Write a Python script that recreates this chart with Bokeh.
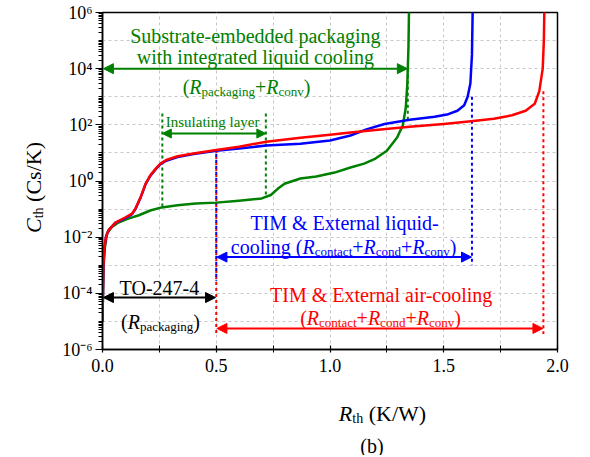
import math
from bokeh.plotting import figure
from bokeh.layouts import row, column
from bokeh.models import Range1d, FixedTicker, CustomJSTickFormatter, Label, Arrow, NormalHead
from bokeh.embed import file_html
from bokeh.resources import INLINE

FONT = "Liberation Serif"
GREEN = "#008000"
BLUE = "#0000ff"
RED = "#ff0000"
BLACK = "#000000"

# ---------------- data ----------------
# red: TIM & external air-cooling  (x = R_th [K/W], y = log10 C_th [Cs/K])
red_rth = [0.000, 0.002, 0.004, 0.008, 0.015, 0.026, 0.057, 0.10, 0.13, 0.145, 0.167, 0.19,
           0.21, 0.235, 0.255, 0.28, 0.33, 0.40, 0.50, 0.60, 0.72, 0.87, 1.00, 1.09, 1.20,
           1.35, 1.50, 1.62, 1.72, 1.80, 1.86, 1.90, 1.92, 1.935, 1.94, 1.943]
red_log_cth = [-5.0, -4.0, -3.0, -2.4, -2.0, -1.76, -1.48, -1.30, -1.16, -0.98, -0.59, -0.09,
               0.20, 0.45, 0.62, 0.75, 0.88, 0.98, 1.10, 1.22, 1.40, 1.54, 1.65, 1.73, 1.82,
               1.93, 2.03, 2.13, 2.22, 2.34, 2.50, 2.75, 3.20, 4.00, 5.00, 6.50]

# blue: TIM & external liquid-cooling
blue_rth = [0.000, 0.002, 0.004, 0.008, 0.015, 0.026, 0.057, 0.10, 0.13, 0.145, 0.167, 0.19,
            0.21, 0.235, 0.255, 0.28, 0.33, 0.40, 0.50, 0.60, 0.72, 0.87, 1.00, 1.09, 1.16,
            1.24, 1.35, 1.46, 1.52, 1.56, 1.59, 1.605, 1.617, 1.624, 1.628]
blue_log_cth = [-5.0, -4.0, -3.0, -2.4, -2.0, -1.76, -1.48, -1.32, -1.18, -1.00, -0.60, -0.10,
                0.18, 0.43, 0.60, 0.72, 0.85, 0.96, 1.08, 1.16, 1.26, 1.33, 1.44, 1.62, 1.84,
                2.03, 2.18, 2.29, 2.38, 2.50, 2.70, 3.00, 3.47, 4.50, 6.50]

# green: substrate-embedded packaging with integrated liquid cooling
green_rth = [0.000, 0.002, 0.005, 0.010, 0.020, 0.040, 0.070, 0.11, 0.16, 0.21, 0.26, 0.33,
             0.41, 0.50, 0.60, 0.70, 0.74, 0.77, 0.80, 0.87, 0.94, 1.02, 1.09, 1.15, 1.20,
             1.25, 1.295, 1.32, 1.333, 1.34, 1.345, 1.348]
green_log_cth = [-5.0, -4.0, -3.0, -2.4, -1.87, -1.65, -1.48, -1.35, -1.22, -1.05, -0.94, -0.86,
                 -0.80, -0.77, -0.70, -0.62, -0.50, -0.28, -0.10, 0.09, 0.16, 0.30, 0.48, 0.62,
                 0.80, 1.08, 1.55, 1.98, 2.60, 3.47, 4.80, 6.50]

# ticks
x_ticks = [0.0, 0.5, 1.0, 1.5, 2.0]
x_tick_labels = ["0.0", "0.5", "1.0", "1.5", "2.0"]
x_minor_ticks = [0.25, 0.75, 1.25, 1.75]
y_tick_exponents = [-6, -4, -2, 0, 2, 4, 6]
y_tick_labels = ["10\u207b\u2076", "10\u207b\u2074", "10\u207b\u00b2", "10\u2070",
                 "10\u00b2", "10\u2074", "10\u2076"]

# ---------------- layout geometry ----------------
YL_W = 48                    # strip holding the y-axis title
FW, FH = 455, 337            # plot frame
LEFT, TOP, RIGHT, BOTTOM = 54, 12, 25, 36
MAIN_W = LEFT + FW + RIGHT
MAIN_H = TOP + FH + BOTTOM
XL_H = 70                    # strip holding x-axis title and "(b)"
TOTAL_H = MAIN_H + XL_H
PXX = FW / 2.0               # px per K/W
PXD = FH / 12.0              # px per decade

p = figure(frame_width=FW, frame_height=FH,
           x_range=Range1d(0, 2), y_range=Range1d(1e-6, 1e6), y_axis_type="log",
           output_backend="svg", toolbar_location=None,
           min_border_left=LEFT, min_border_right=RIGHT, min_border_top=TOP,
           min_border_bottom=BOTTOM,
           background_fill_color="white", border_fill_color="white")
p.outline_line_color = "black"
p.outline_line_width = 1.5
p.outline_line_alpha = 1.0

# x axis
p.xaxis.ticker = FixedTicker(ticks=x_ticks, minor_ticks=x_minor_ticks)
p.xaxis.formatter = CustomJSTickFormatter(args=dict(xs=x_ticks, labs=x_tick_labels), code="""
const i = xs.findIndex(v => Math.abs(v - tick) < 1e-9);
return i >= 0 ? labs[i] : "";
""")
p.xaxis.major_tick_in = 4
p.xaxis.major_tick_out = 3
p.xaxis.minor_tick_in = 4
p.xaxis.minor_tick_out = 3
p.xaxis.major_label_standoff = 6
# y axis
decade_ticks = [10.0 ** e for e in y_tick_exponents]
minor = []
for k in range(-6, 6):
    for m in range(1, 10):
        if m == 1 and k in y_tick_exponents:
            continue
        minor.append(m * 10.0 ** k)
p.yaxis.ticker = FixedTicker(ticks=decade_ticks, minor_ticks=minor)
p.yaxis.formatter = CustomJSTickFormatter(args=dict(es=y_tick_exponents, labs=y_tick_labels), code="""
const e = Math.round(Math.log10(tick));
const i = es.indexOf(e);
return i >= 0 ? labs[i] : "";
""")
p.yaxis.major_tick_in = 0
p.yaxis.major_tick_out = 7
p.yaxis.minor_tick_in = 0
p.yaxis.minor_tick_out = 4
p.yaxis.major_label_standoff = 3

for ax in (p.xaxis, p.yaxis):
    ax.axis_line_width = 1.5
    ax.axis_line_color = "black"
    ax.major_tick_line_color = "black"
    ax.minor_tick_line_color = "black"
    ax.major_tick_line_width = 1.2
    ax.minor_tick_line_width = 1
    ax.major_label_text_font = FONT
    ax.major_label_text_font_size = "18px"
    ax.major_label_text_color = "black"

p.xgrid.ticker = FixedTicker(ticks=[0.25, 0.5, 0.75, 1.0, 1.25, 1.5, 1.75])
p.ygrid.ticker = FixedTicker(ticks=[10.0 ** k for k in range(-5, 6)])
for g in (p.xgrid, p.ygrid):
    g.grid_line_color = "#c8c8c8"
    g.grid_line_dash = "3 3"
    g.grid_line_width = 1


def text_fig(w, h):
    f = figure(frame_width=w, frame_height=h, x_range=Range1d(0, w), y_range=Range1d(0, h),
               min_border=0, min_border_left=0, min_border_right=0, min_border_top=0,
               min_border_bottom=0, x_axis_location=None, y_axis_location=None,
               toolbar_location=None, output_backend="svg",
               background_fill_color="white", border_fill_color="white")
    f.outline_line_color = None
    f.xgrid.visible = False
    f.ygrid.visible = False
    return f


fig_yl = text_fig(YL_W, TOTAL_H)
fig_xl = text_fig(MAIN_W, XL_H)

# ---------------- helper lines ----------------
def dotted(x, y0, y1, color, offset=0):
    p.line([x, x], [y0, y1], line_color=color, line_width=2, line_dash="3 3",
           line_dash_offset=offset)

def c_at(xs, ls, x):
    for i in range(len(xs) - 1):
        if xs[i] <= x <= xs[i + 1]:
            t = (x - xs[i]) / (xs[i + 1] - xs[i])
            return 10 ** (ls[i] + t * (ls[i + 1] - ls[i]))
    return 10 ** ls[-1]

# insulating layer markers
dotted(0.263, 10 ** 2.4, c_at(green_rth, green_log_cth, 0.263), GREEN)
dotted(0.718, 10 ** 2.4, c_at(green_rth, green_log_cth, 0.718), GREEN)
# green end marker
dotted(1.342, 1e4, 10 ** 2.2, GREEN)
# x = 0.5 markers (red + blue)
dotted(0.5, c_at(red_rth, red_log_cth, 0.5), 10 ** -5.45, RED)
dotted(0.5, c_at(blue_rth, blue_log_cth, 0.5), 10 ** -3.55, BLUE, offset=3)
# right-hand markers
dotted(1.624, 10 ** 3.0, 10 ** -3.0, BLUE)
dotted(1.938, 10 ** 3.2, 10 ** -5.45, RED)

# ---------------- curves ----------------
p.line(green_rth, [10 ** v for v in green_log_cth], line_color=GREEN, line_width=2.5, line_join="round")
p.line(blue_rth, [10 ** v for v in blue_log_cth], line_color=BLUE, line_width=2.5, line_join="round")
p.line(red_rth, [10 ** v for v in red_log_cth], line_color=RED, line_width=2.5, line_join="round")

# ---------------- double arrows ----------------
def darrow(x0, x1, y, color, size=10):
    p.add_layout(Arrow(start=NormalHead(size=size, fill_color=color, line_color=color),
                       end=NormalHead(size=size, fill_color=color, line_color=color),
                       x_start=x0, y_start=y, x_end=x1, y_end=y,
                       line_color=color, line_width=2))

darrow(0.004, 1.340, 1e4, GREEN)
darrow(0.263, 0.718, 10 ** 1.69, GREEN, size=9)
darrow(0.503, 1.622, 10 ** -2.71, BLUE)
darrow(0.503, 1.936, 10 ** -5.25, RED)
darrow(0.004, 0.497, 10 ** -4.15, BLACK)

# ---------------- rich text ----------------
W = {' ': 250, '(': 333, ')': 333, '+': 564, '&': 778, '-': 333, '/': 278, '.': 250,
     'A': 722, 'B': 667, 'C': 667, 'D': 722, 'E': 611, 'F': 556, 'G': 722, 'H': 722, 'I': 333,
     'J': 389, 'K': 722, 'L': 611, 'M': 889, 'N': 722, 'O': 722, 'P': 556, 'Q': 722, 'R': 667,
     'S': 556, 'T': 611, 'U': 722, 'V': 722, 'W': 944, 'X': 722, 'Y': 722, 'Z': 611,
     'a': 444, 'b': 500, 'c': 444, 'd': 500, 'e': 444, 'f': 333, 'g': 500, 'h': 500, 'i': 278,
     'j': 278, 'k': 500, 'l': 278, 'm': 778, 'n': 500, 'o': 500, 'p': 500, 'q': 500, 'r': 333,
     's': 389, 't': 278, 'u': 500, 'v': 500, 'w': 722, 'x': 500, 'y': 500, 'z': 444}
WI = {'R': 611, 'C': 667}


def text_w(s, size, italic=False):
    tot = 0
    for ch in s:
        if italic and ch in WI:
            tot += WI[ch]
        else:
            tot += W.get(ch, 500)
    return tot * size / 1000.0


def log_tx(x, d):
    return x + d / PXX


def log_ty(y, d):
    return y * 10 ** (d / PXD)


def px_t(v, d):
    return v + d


def rich(fig, pieces, x, y, color, size=20, sub=13, align="center", angle=0.0, drop=4,
         tx=log_tx, ty=log_ty):
    widths = []
    for t, kind in pieces:
        sz = sub if kind == "s" else size
        widths.append(text_w(t, sz, kind == "i"))
    total = sum(widths)
    pos = -total / 2.0 if align == "center" else 0.0
    for (t, kind), w in zip(pieces, widths):
        sz = sub if kind == "s" else size
        lead = len(t) - len(t.lstrip(" "))
        shift = text_w(" " * lead, sz)
        d = drop if kind == "s" else 0
        a = pos + shift
        if angle == 0:
            lx = tx(x, a)
            ly = ty(y, -d)
        else:
            lx = tx(x, d)
            ly = ty(y, a)
        fig.add_layout(Label(x=lx, y=ly, text=t.lstrip(" "), text_font=FONT,
                             text_font_size=f"{sz}px",
                             text_font_style="italic" if kind == "i" else "normal",
                             text_color=color, text_align="left", text_baseline="alphabetic",
                             angle=angle))
        pos += w


rich(p, [("Substrate-embedded packaging", "n")], 0.672, 10 ** 5.18, GREEN)
rich(p, [("with integrated liquid cooling", "n")], 0.672, 10 ** 4.40, GREEN)
rich(p, [("(", "n"), ("R", "i"), ("packaging", "s"), ("+", "n"), ("R", "i"), ("conv", "s"), (")", "n")],
     0.633, 10 ** 3.33, GREEN)
rich(p, [("Insulating layer", "n")], 0.484, 10 ** 2.09, GREEN, size=15)

rich(p, [("TIM & External liquid-", "n")], 1.064, 10 ** -1.51, BLUE)
rich(p, [("cooling (", "n"), ("R", "i"), ("contact", "s"), ("+", "n"), ("R", "i"), ("cond", "s"),
         ("+", "n"), ("R", "i"), ("conv", "s"), (")", "n")], 1.06, 10 ** -2.36, BLUE)

rich(p, [("TIM & External air-cooling", "n")], 1.226, 10 ** -4.07, RED)
rich(p, [("(", "n"), ("R", "i"), ("contact", "s"), ("+", "n"), ("R", "i"), ("cond", "s"),
         ("+", "n"), ("R", "i"), ("conv", "s"), (")", "n")], 1.222, 10 ** -4.89, RED)

rich(p, [("TO-247-4", "n")], 0.251, 10 ** -3.82, BLACK)
rich(p, [("(", "n"), ("R", "i"), ("packaging", "s"), (")", "n")], 0.255, 10 ** -5.03, BLACK)

# axis titles in their own strips (pixel coordinates, y measured from strip bottom)
rich(fig_yl, [("C", "i"), ("th", "s"), (" (Cs/K)", "n")], 33, TOTAL_H - 187, BLACK,
     size=22, sub=14, angle=math.pi / 2, drop=5, tx=px_t, ty=px_t)
rich(fig_xl, [("R", "i"), ("th", "s"), (" (K/W)", "n")], 328 - YL_W, XL_H - (413 - MAIN_H), BLACK,
     size=22, sub=14, drop=5, tx=px_t, ty=px_t)
rich(fig_xl, [("(b)", "n")], 317.5 - YL_W, XL_H - (445 - MAIN_H), BLACK, size=20, tx=px_t, ty=px_t)

layout = row(fig_yl, column(p, fig_xl, spacing=0), spacing=0)
open("out.html", "w").write(file_html(layout, INLINE))
